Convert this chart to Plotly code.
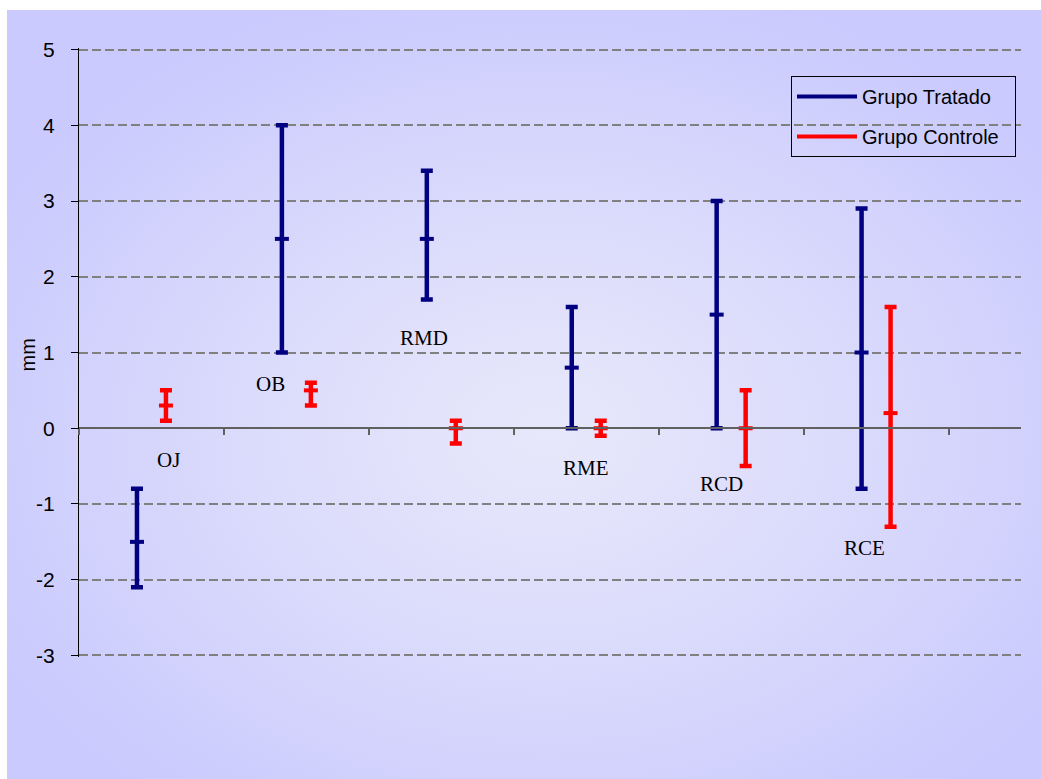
import base64
import plotly.graph_objects as go

# ---- data ----
categories = ["OJ", "OB", "RMD", "RME", "RCD", "RCE"]
trat_high = [-0.8, 4.0, 3.4, 1.6, 3.0, 2.9]
trat_mean = [-1.5, 2.5, 2.5, 0.8, 1.5, 1.0]
trat_low = [-2.1, 1.0, 1.7, 0.0, 0.0, -0.8]
ctrl_high = [0.5, 0.6, 0.1, 0.1, 0.5, 1.6]
ctrl_mean = [0.3, 0.5, 0.0, 0.0, 0.0, 0.2]
ctrl_low = [0.1, 0.3, -0.2, -0.1, -0.5, -1.3]
y_ticks = [-3, -2, -1, 0, 1, 2, 3, 4, 5]
series_names = ["Grupo Tratado", "Grupo Controle"]
y_title = "mm"

# label anchor positions (layout, in axis units)
label_pos = [(0.62, -0.42), (1.32, 0.59), (2.38, 1.19), (3.5, -0.53), (4.43, -0.74), (5.42, -1.58)]

BLUE = "#000080"
RED = "#FF0000"

W, H = 1041, 779
ML, MR, MT, MB = 79, 20, 48, 122
PW, PH = W - ML - MR, H - MT - MB
PAD = 0.02
YMIN, YMAX = y_ticks[0] - PAD, y_ticks[-1] + PAD

fig = go.Figure()


def add_series(offset, mean, high, low, color, name):
    xs = [i + 0.5 + offset for i in range(len(categories))]
    fig.add_trace(go.Scatter(
        x=xs, y=mean, mode="markers", showlegend=False, name=name,
        marker=dict(symbol="line-ew", size=10, color=color,
                    line=dict(color=color, width=4)),
        error_y=dict(type="data", symmetric=False,
                     array=[h - m for h, m in zip(high, mean)],
                     arrayminus=[m - l for m, l in zip(mean, low)],
                     color=color, thickness=4.5, width=6),
        hoverinfo="skip"))


add_series(-0.1, trat_mean, trat_high, trat_low, BLUE, series_names[0])
add_series(0.1, ctrl_mean, ctrl_high, ctrl_low, RED, series_names[1])

# legend entries drawn as line samples
NB = "\u00a0\u00a0"
for nm, col, grp in [(series_names[0], BLUE, "a"), (series_names[1], RED, "b")]:
    fig.add_trace(go.Scatter(x=[None], y=[None], mode="lines", name=nm + NB,
                             legendgroup=grp,
                             line=dict(color=col, width=4)))

for cat, (lx, ly) in zip(categories, label_pos):
    fig.add_annotation(x=lx, y=ly, text=cat, showarrow=False,
                       font=dict(family="Liberation Serif", size=21, color="black"))

# y axis title
fig.add_annotation(xref="paper", yref="paper", x=(27.5 - ML) / PW, y=(H - MB - 355) / PH,
                   xanchor="center", yanchor="middle",
                   text=y_title, textangle=-90, showarrow=False,
                   font=dict(size=20, color="black"))

# background gradient (outer chart area)
svg = ('<svg xmlns="http://www.w3.org/2000/svg" width="1034" height="769" '
       'preserveAspectRatio="none"><defs><radialGradient id="g" cx="0.52" cy="0.55" r="0.6">'
       '<stop offset="0" stop-color="#E8E8FB"/><stop offset="0.45" stop-color="#DCDCFC"/>'
       '<stop offset="1" stop-color="#CACAFE"/></radialGradient></defs>'
       '<rect width="1034" height="769" fill="url(#g)"/></svg>')
src = "data:image/svg+xml;base64," + base64.b64encode(svg.encode()).decode()
bx0, by0, bx1, by1 = 7, 10, 1041, 779
fig.add_layout_image(dict(source=src, xref="paper", yref="paper",
                          x=(bx0 - ML) / PW, y=(H - MB - by0) / PH,
                          sizex=(bx1 - bx0) / PW, sizey=(by1 - by0) / PH,
                          sizing="stretch", xanchor="left", yanchor="top",
                          layer="below"))

fig.update_layout(
    width=W, height=H,
    margin=dict(l=ML, r=MR, t=MT, b=MB),
    paper_bgcolor="white",
    plot_bgcolor="rgba(0,0,0,0)",
    font=dict(family="Liberation Sans", color="black"),
    xaxis=dict(range=[0, 6.5], tickvals=list(range(7)), showticklabels=False,
               ticks="outside", ticklen=6, tickcolor="#606060", tickwidth=1.5,
               showline=True, linecolor="#606060", linewidth=1.5,
               showgrid=False, zeroline=False,
               anchor="free", position=(0 - YMIN) / (YMAX - YMIN)),
    yaxis=dict(range=[YMIN, YMAX], tickvals=y_ticks, ticktext=[str(v) for v in y_ticks],
               ticks="outside", ticklen=7, tickcolor="black", tickwidth=1,
               showline=True, linecolor="black", linewidth=1,
               showgrid=True, gridcolor="#808080", gridwidth=2, griddash="9px,4px",
               zeroline=False, tickfont=dict(size=21), ticklabelstandoff=12),
    legend=dict(x=(791 - ML) / PW, y=(H - MB - 76) / PH, xanchor="left", yanchor="top",
                bgcolor="rgba(0,0,0,0)", bordercolor="black", borderwidth=1,
                font=dict(size=20), traceorder="grouped", tracegroupgap=11,
                itemwidth=60),
    showlegend=True,
)

fig.write_html("out.html")
